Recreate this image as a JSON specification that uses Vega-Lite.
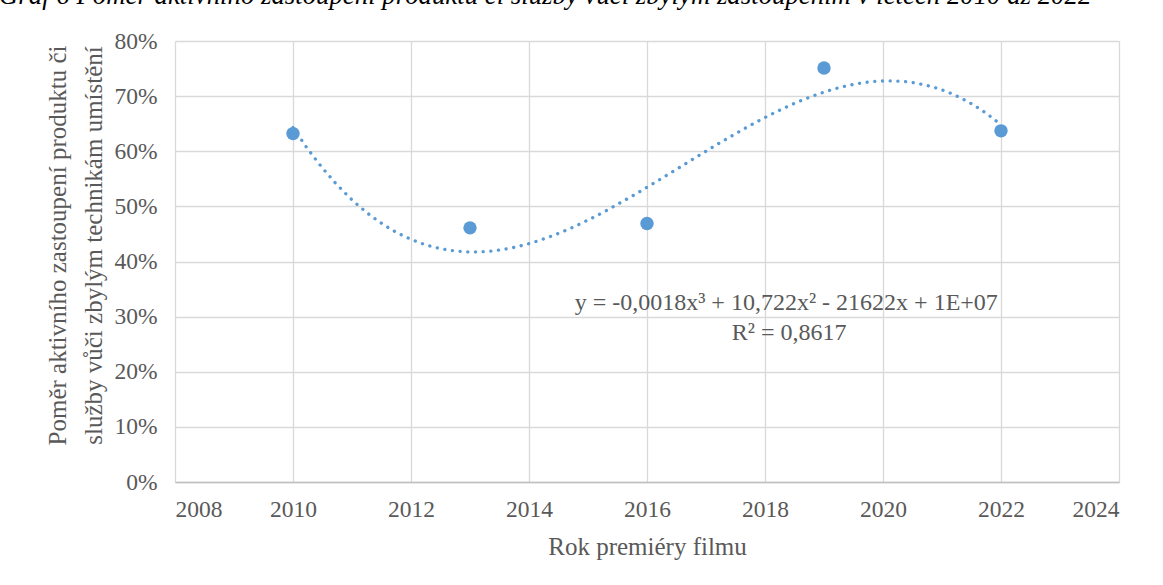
{
  "$schema": "https://vega.github.io/schema/vega-lite/v6.json",
  "width": 944,
  "height": 441,
  "autosize": {"type": "none"},
  "padding": {"left": 175, "top": 41, "right": 44, "bottom": 103},
  "background": "white",
  "title": {
    "text": "Graf 6 Poměr aktivního zastoupení produktu či služby vůči zbylým zastoupením v letech 2010 až 2022",
    "anchor": "start",
    "frame": "group",
    "dx": -176,
    "offset": 19,
    "font": "Liberation Serif",
    "fontStyle": "italic",
    "fontWeight": "normal",
    "fontSize": 26.8,
    "color": "#000000"
  },
  "datasets": {
    "points": [
      {"year": 2010, "share": 0.632},
      {"year": 2013, "share": 0.461},
      {"year": 2016, "share": 0.469},
      {"year": 2019, "share": 0.751},
      {"year": 2022, "share": 0.637}
    ],
    "notes": [
      {"year": 2018.36, "share": 0.3247, "label": "y = -0,0018x³ + 10,722x² - 21622x + 1E+07"},
      {"year": 2018.41, "share": 0.2703, "label": "R² = 0,8617"}
    ]
  },
  "config": {
    "view": {"stroke": null},
    "axis": {
      "labelFont": "Liberation Serif",
      "labelFontSize": 23.5,
      "labelColor": "#595959",
      "titleFont": "Liberation Serif",
      "titleFontSize": 25,
      "titleFontWeight": "normal",
      "titleColor": "#595959",
      "gridColor": "#D9D9D9",
      "gridWidth": 1.3,
      "ticks": false
    }
  },
  "layer": [
    {
      "data": {"name": "points"},
      "transform": [
        {"regression": "share", "on": "year", "method": "poly", "order": 3, "extent": [2010, 2022]}
      ],
      "mark": {"type": "line", "color": "#5B9BD5", "strokeWidth": 3.3, "strokeDash": [0.1, 7.6], "strokeCap": "round"},
      "encoding": {
        "x": {
          "field": "year", "type": "quantitative",
          "scale": {"domain": [2008, 2024], "nice": false, "zero": false},
          "axis": {
            "values": [2008, 2010, 2012, 2014, 2016, 2018, 2020, 2022, 2024],
            "format": "d",
            "title": "Rok premiéry filmu",
            "labelFont": "Liberation Serif",
            "titleFont": "Liberation Serif",
            "labelPadding": 15,
            "titlePadding": 14,
            "domainColor": "#BFBFBF",
            "domainWidth": 1.5
          }
        },
        "y": {
          "field": "share", "type": "quantitative",
          "scale": {"domain": [0, 0.8], "nice": false},
          "axis": {
            "values": [0, 0.1, 0.2, 0.3, 0.4, 0.5, 0.6, 0.7, 0.8],
            "format": ".0%",
            "labelFont": "Liberation Serif",
            "titleFont": "Liberation Serif",
            "title": ["Poměr aktivního zastoupení produktu či", "služby vůči zbylým technikám umístění"],
            "titleLineHeight": 36,
            "titleY": 204,
            "labelPadding": 18,
            "titlePadding": 7,
            "domain": false
          }
        }
      }
    },
    {
      "data": {"name": "points"},
      "mark": {"type": "circle", "color": "#5B9BD5", "opacity": 1, "size": 180},
      "encoding": {
        "x": {"field": "year", "type": "quantitative"},
        "y": {"field": "share", "type": "quantitative"}
      }
    },
    {
      "data": {"name": "notes"},
      "mark": {"type": "text", "font": "Liberation Serif", "fontSize": 24, "color": "#595959", "align": "center", "baseline": "middle"},
      "encoding": {
        "x": {"field": "year", "type": "quantitative"},
        "y": {"field": "share", "type": "quantitative"},
        "text": {"field": "label"}
      }
    }
  ]
}
